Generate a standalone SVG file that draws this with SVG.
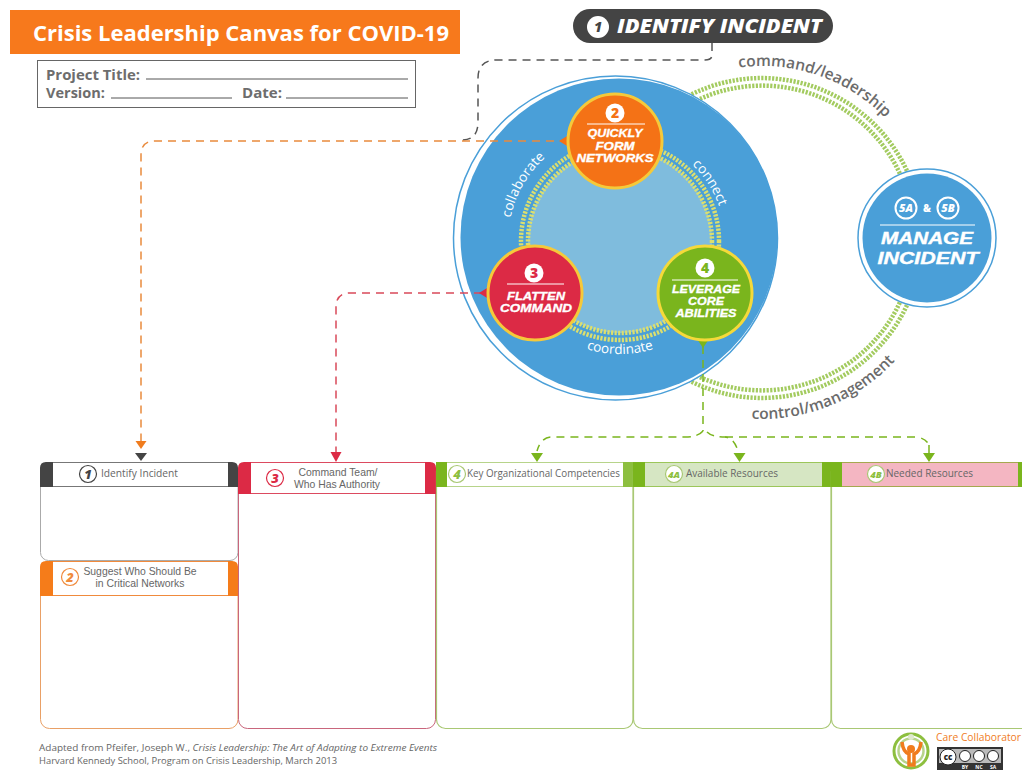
<svg xmlns="http://www.w3.org/2000/svg" width="1022" height="770" viewBox="0 0 1022 770">
<style>
text{font-family:"Open Sans","Liberation Sans",sans-serif}
.dotg{fill:none;stroke:#a3cb5f;stroke-width:4.5;stroke-dasharray:2.2 1.4}
.doty{fill:none;stroke:#dcdf6e;stroke-width:4.5;stroke-dasharray:2.2 1.4}
.dash{fill:none;stroke-width:1.5;stroke-dasharray:8 6}
.nt{fill:#fff;font-family:"Liberation Sans",Arial,sans-serif;font-weight:700;font-style:italic;font-size:10.400px;text-anchor:middle;stroke:#fff;stroke-width:.3}
.mi{fill:#fff;font-family:"Liberation Sans",Arial,sans-serif;font-weight:700;font-style:italic;font-size:17px;text-anchor:middle;stroke:#fff;stroke-width:.4}
.num{font-weight:800;font-size:14px;text-anchor:middle}
.rule{stroke:#fff;stroke-width:1}
.ht{fill:#666;font-size:10px}
.hc{text-anchor:middle;font-family:"Liberation Sans",Arial,sans-serif;font-size:10.400px}
.hn{font-weight:800;font-style:italic;font-size:13px;text-anchor:middle}
.arc{fill:#6b6b6b;font-size:15.500px;font-weight:600;text-anchor:middle}
.arw{fill:#fff;font-size:13.500px;text-anchor:middle}
.form{fill:#6d6d6d;font-weight:700;font-size:14px}
.fl{stroke:#555;stroke-width:1}
.foot{fill:#666;font-size:9.500px}
.ccb{fill:#fff;stroke:#222;stroke-width:1}
</style>
<defs>
<path id="pCmd" d="M663.400 97.100A172 172 0 0 1 926.500 187.700"/>
<path id="pCtl" d="M666.100 391.500A181 181 0 0 0 937.600 281.800"/>
<path id="pCol" d="M514.800 279.300A112 112 0 0 1 600.600 130.700"/>
<path id="pCon" d="M638.200 137.600A105 105 0 0 1 721.900 266.400"/>
<path id="pCoo" d="M533.400 313.600A113 113 0 0 0 706.600 313.600"/>
</defs>
<rect width="1022" height="770" fill="#fff"/>

<g id="title"><rect x="10" y="10" width="450" height="44" fill="#f7791c"/>
<text x="33" y="41" fill="#fff" font-weight="700" font-size="22" textLength="416" lengthAdjust="spacingAndGlyphs">Crisis Leadership Canvas for COVID-19</text></g>
<g id="project-form"><rect x="37.500" y="60.500" width="378" height="47" fill="#fff" stroke="#666" stroke-width="1"/>
<text class="form" x="46" y="80" textLength="94" lengthAdjust="spacingAndGlyphs">Project Title:</text><line class="fl" x1="146" y1="79" x2="408" y2="79"/>
<text class="form" x="46" y="98" textLength="59" lengthAdjust="spacingAndGlyphs">Version:</text><line class="fl" x1="111" y1="98" x2="232" y2="98"/>
<text class="form" x="242" y="98" textLength="40" lengthAdjust="spacingAndGlyphs">Date:</text><line class="fl" x1="286" y1="98" x2="408" y2="98"/></g>

<g id="manage-ring">
<path class="dotg" d="M670 107A160 160 0 0 1 912 183"/><path class="dotg" d="M675 113A152 152 0 0 1 905 186"/>
<path class="dotg" d="M670 369A160 160 0 0 0 912 293"/><path class="dotg" d="M675 363A152 152 0 0 0 905 290"/>
<text class="arc"><textPath href="#pCmd" startOffset="50%">command/leadership</textPath></text>
<text class="arc"><textPath href="#pCtl" startOffset="50%">control/management</textPath></text>
</g>

<g id="big-circle">
<circle cx="615.500" cy="238" r="162" fill="#fff" stroke="#4a9fd8" stroke-width="1.500"/>
<circle cx="619" cy="237" r="158.500" fill="#4a9fd8"/>
<circle cx="620" cy="241" r="92" fill="#7fbcdd"/>
<circle class="doty" cx="620" cy="241" r="92"/><circle class="doty" cx="620" cy="241" r="99"/>
<text class="arw"><textPath href="#pCol" startOffset="50%">collaborate</textPath></text>
<text class="arw"><textPath href="#pCon" startOffset="50%">connect</textPath></text>
<text class="arw"><textPath href="#pCoo" startOffset="50%">coordinate</textPath></text>
</g>

<g id="connectors">
<path class="dash" stroke="#555" d="M712 43V55Q712 60 705 60H497Q478 60 478 78V122Q478 140 462 140"/>
<path class="dash" stroke="#e98a3c" d="M568 141H155Q141 141 141 155V441"/>
<path fill="#f07c1e" d="M135.500 441H146.500L141 449Z"/>
<path fill="#444" d="M135 453H147L141 461Z"/>
<path class="dash" stroke="#d94a5a" d="M482 293H350Q336 293 336 307V453"/>
<path fill="#dc2a45" d="M330.500 452H341.500L336 462Z"/>
<path class="dash" stroke="#7ab51d" d="M703 346V431"/>
<path class="dash" stroke="#7ab51d" d="M703 431Q698 437 685 437H552Q541 437 537 451"/>
<path class="dash" stroke="#7ab51d" d="M707 432Q712 437 725 437Q734 438 738 451"/>
<path class="dash" stroke="#7ab51d" d="M725 437H916Q926 438 929 445"/>
<path stroke="#7ab51d" stroke-width="1.500" d="M929 445V453"/>
<path fill="#7ab51d" d="M531 453H543L537 462Z"/>
<path fill="#7ab51d" d="M733.500 453H745.500L739.500 462Z"/>
<path fill="#7ab51d" d="M923 453H935L929 462Z"/>
</g>

<g id="identify-pill"><rect x="573" y="9" width="260" height="34" rx="17" fill="#444"/>
<circle cx="598" cy="27" r="11" fill="#fff"/><text class="num" x="598" y="32" fill="#444" font-size="15" font-style="italic">1</text>
<text x="617" y="33" fill="#fff" font-weight="800" font-style="italic" font-size="19" textLength="205" lengthAdjust="spacingAndGlyphs">IDENTIFY INCIDENT</text></g>

<g id="node-2">
<path d="M559 141L572 133H578V149H572Z" fill="#f47216"/>
<circle cx="615" cy="141" r="47" fill="#f47216" stroke="#f5c93a" stroke-width="3"/>
<circle cx="615" cy="113" r="9.500" fill="#fff"/><text class="num" x="615" y="118" fill="#f47216">2</text>
<line class="rule" x1="587" y1="124" x2="645" y2="124"/>
<text class="nt" x="615" y="137" textLength="55" lengthAdjust="spacingAndGlyphs">QUICKLY</text><text class="nt" x="615" y="150" textLength="39" lengthAdjust="spacingAndGlyphs">FORM</text><text class="nt" x="615" y="162" textLength="77" lengthAdjust="spacingAndGlyphs">NETWORKS</text></g>

<g id="node-3"><path d="M479 293L492 285H498V301H492Z" fill="#dc2a45"/>
<circle cx="535" cy="293" r="47" fill="#dc2a45" stroke="#f5c93a" stroke-width="3"/>
<circle cx="534" cy="273" r="9.500" fill="#fff"/><text class="num" x="534" y="278" fill="#dc2a45">3</text>
<line class="rule" x1="507" y1="284" x2="564" y2="284"/>
<text class="nt" x="536" y="300" textLength="58" lengthAdjust="spacingAndGlyphs">FLATTEN</text><text class="nt" x="536" y="312" textLength="72" lengthAdjust="spacingAndGlyphs">COMMAND</text></g>

<g id="node-4"><path d="M703 348L695 336V330H711V336Z" fill="#7ab51d"/>
<circle cx="705" cy="293" r="47" fill="#7ab51d" stroke="#f5d93a" stroke-width="3"/>
<circle cx="705" cy="268" r="9.500" fill="#fff"/><text class="num" x="705" y="273" fill="#7ab51d">4</text>
<line class="rule" x1="672" y1="280" x2="738" y2="280"/>
<text class="nt" x="706" y="293" textLength="68" lengthAdjust="spacingAndGlyphs">LEVERAGE</text><text class="nt" x="706" y="305" textLength="36" lengthAdjust="spacingAndGlyphs">CORE</text><text class="nt" x="706" y="317" textLength="61" lengthAdjust="spacingAndGlyphs">ABILITIES</text></g>

<g id="node-5"><circle cx="927" cy="238" r="69" fill="#fff" stroke="#4a9fd8" stroke-width="1.500"/>
<circle cx="927" cy="238" r="64.500" fill="#4a9fd8"/>
<circle cx="906" cy="208" r="10.500" fill="#4a9fd8" stroke="#fff" stroke-width="2"/><text x="906" y="212" fill="#fff" font-size="11" font-weight="800" font-style="italic" text-anchor="middle">5A</text>
<text x="927" y="212" fill="#fff" font-size="10" font-weight="800" text-anchor="middle">&amp;</text>
<circle cx="948" cy="208" r="10.500" fill="#4a9fd8" stroke="#fff" stroke-width="2"/><text x="948" y="212" fill="#fff" font-size="11" font-weight="800" font-style="italic" text-anchor="middle">5B</text>
<line class="rule" x1="880" y1="225" x2="975" y2="225"/>
<text class="mi" x="927" y="244" textLength="92" lengthAdjust="spacingAndGlyphs">MANAGE</text>
<text class="mi" x="928" y="264" textLength="101" lengthAdjust="spacingAndGlyphs">INCIDENT</text></g>

<g id="box-1"><rect x="40.500" y="462.500" width="197.500" height="98" rx="8" fill="#fff" stroke="#aaa"/>
<path d="M40 487V468Q40 462 46 462H53V487Z" fill="#444"/><path d="M228 462H232Q238 462 238 468V487H228Z" fill="#444"/>
<path d="M53 462.500H228M53 486.500H228" stroke="#777" fill="none"/>
<circle cx="88" cy="474" r="8.500" fill="#fff" stroke="#444" stroke-width="1.200"/><text class="hn" x="88" y="479" fill="#444">1</text>
<text class="ht" x="101" y="477" textLength="77" lengthAdjust="spacingAndGlyphs">Identify Incident</text></g>

<g id="box-2"><rect x="40.500" y="561.500" width="197.500" height="167" rx="9" fill="#fff" stroke="#e9a066"/>
<path d="M40 596V567Q40 561 46 561H53V596Z" fill="#f57c1a"/><path d="M228 561H232Q238 561 238 567V596H228Z" fill="#f57c1a"/>
<path d="M53 561.500H228M53 595.500H228" stroke="#f08a3c" fill="none"/>
<circle cx="70" cy="577" r="8.500" fill="#fff" stroke="#f08a3c" stroke-width="1.200"/><text class="hn" x="70" y="582" fill="#f08a3c">2</text>
<text class="ht hc" x="140" y="575">Suggest Who Should Be</text><text class="ht hc" x="140" y="587">in Critical Networks</text></g>

<g id="box-3"><rect x="238.500" y="462.500" width="197" height="266" rx="9" fill="#fff" stroke="#c9667c"/>
<path d="M238 494V468Q238 462 244 462H251V494Z" fill="#dc2a45"/><path d="M425 462H430Q436 462 436 468V494H425Z" fill="#dc2a45"/>
<path d="M251 462.500H425M251 493.500H425" stroke="#dc4a60" fill="none"/>
<circle cx="275" cy="478" r="8.500" fill="#fff" stroke="#dc2a45" stroke-width="1.200"/><text class="hn" x="275" y="483" fill="#dc2a45">3</text>
<text class="ht hc" x="338" y="476">Command Team/</text><text class="ht hc" x="337" y="488">Who Has Authority</text></g>

<g id="box-4"><rect x="436.500" y="462.500" width="196.500" height="266" rx="9" fill="#fff" stroke="#a9c874" stroke-width="1.200"/>
<rect x="436" y="462" width="11" height="25" fill="#7ab51d"/><rect x="623" y="462" width="10" height="25" fill="#8dbf3f"/>
<path d="M447 462.500H623M447 486.500H623" stroke="#b7d48a" fill="none"/>
<circle cx="457" cy="474" r="8.500" fill="#fff" stroke="#a9c874" stroke-width="1.200"/><text class="hn" x="457" y="479" fill="#8dbf3f">4</text>
<text class="ht" x="467" y="477" textLength="153" lengthAdjust="spacingAndGlyphs">Key Organizational Competencies</text></g>

<g id="box-4a"><rect x="633.500" y="462.500" width="197.500" height="266" rx="9" fill="#fff" stroke="#a9c874" stroke-width="1.200"/>
<rect x="645" y="462" width="177" height="25" fill="#d6e6c3"/>
<rect x="633" y="462" width="12" height="25" fill="#7ab51d"/><rect x="822" y="462" width="9" height="25" fill="#7ab51d"/>
<path d="M645 462.500H822M645 486.500H822" stroke="#9cc65a" fill="none"/>
<circle cx="674" cy="474" r="8.500" fill="#fff" stroke="#a9c874" stroke-width="1.200"/><text x="674" y="477.500" fill="#8dbf3f" font-size="9.500" font-weight="800" font-style="italic" text-anchor="middle">4A</text>
<text class="ht" x="686" y="477" textLength="92" lengthAdjust="spacingAndGlyphs">Available Resources</text></g>

<g id="box-4b"><rect x="831.500" y="462.500" width="200" height="266" rx="9" fill="#fff" stroke="#a9c874" stroke-width="1.200"/>
<rect x="842" y="462" width="176" height="25" fill="#f4b6c2"/>
<rect x="831" y="462" width="11" height="25" fill="#7ab51d"/><rect x="1018" y="462" width="4" height="25" fill="#7ab51d"/>
<path d="M842 462.500H1018M842 486.500H1018" stroke="#a5a84f" fill="none"/>
<circle cx="876" cy="474" r="8.500" fill="#fff" stroke="#a9c874" stroke-width="1.200"/><text x="876" y="477.500" fill="#8dbf3f" font-size="9.500" font-weight="800" font-style="italic" text-anchor="middle">4B</text>
<text class="ht" x="886" y="477" textLength="87" lengthAdjust="spacingAndGlyphs">Needed Resources</text></g>

<g id="footer">
<text class="foot" x="39" y="751" textLength="398" lengthAdjust="spacingAndGlyphs">Adapted from Pfeifer, Joseph W., <tspan font-style="italic">Crisis Leadership: The Art of Adapting to Extreme Events</tspan></text>
<text class="foot" x="39" y="764" textLength="298" lengthAdjust="spacingAndGlyphs">Harvard Kennedy School, Program on Crisis Leadership, March 2013</text>
</g>

<g id="logo">
<circle cx="911" cy="751" r="17" fill="none" stroke="#8dbf3f" stroke-width="3"/>
<circle cx="911" cy="751" r="12.500" fill="none" stroke="#b7d48a" stroke-width="2.500"/>
<circle cx="911" cy="737" r="3" fill="#dfe8cf"/>
<path d="M902 742Q903 752 909 754V765H914V754Q920 752 921 742" fill="none" stroke="#f07c1e" stroke-width="3.500"/>
<circle cx="911" cy="749" r="4" fill="#f07c1e"/>
<text x="936" y="741" fill="#f07c1e" font-size="10" textLength="85" lengthAdjust="spacingAndGlyphs">Care Collaborator</text>
<rect x="937" y="747" width="66" height="23" fill="#333"/>
<rect x="939" y="749" width="62" height="14" fill="#bbb"/>
<circle class="ccb" cx="948" cy="757" r="8"/><text x="948" y="760" font-size="8" font-weight="800" text-anchor="middle" fill="#222">cc</text>
<circle class="ccb" cx="965" cy="756" r="5.500"/><circle class="ccb" cx="979" cy="756" r="5.500"/><circle class="ccb" cx="993" cy="756" r="5.500"/>
<text x="965" y="769" font-size="5" font-weight="700" fill="#fff" text-anchor="middle">BY</text>
<text x="979" y="769" font-size="5" font-weight="700" fill="#fff" text-anchor="middle">NC</text>
<text x="993" y="769" font-size="5" font-weight="700" fill="#fff" text-anchor="middle">SA</text>
</g>
</svg>
